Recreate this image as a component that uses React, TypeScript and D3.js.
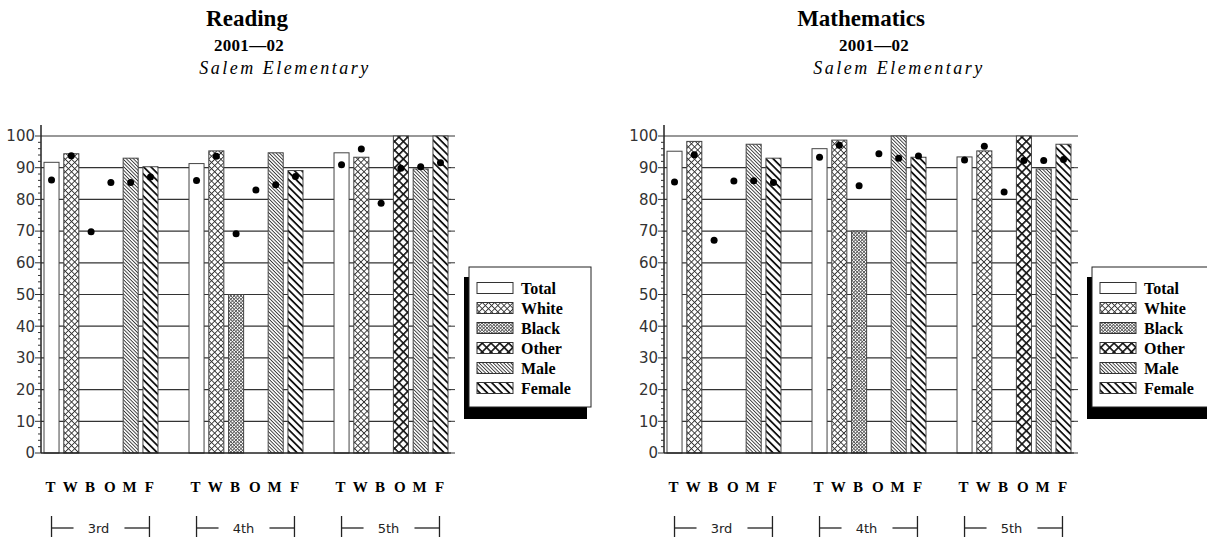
import * as d3 from 'd3';
import { useEffect, useRef } from 'react';

const grades = ['3rd', '4th', '5th'];
const groups = ['Total', 'White', 'Black', 'Other', 'Male', 'Female'];
const groupLetters = ['T', 'W', 'B', 'O', 'M', 'F'];
const yTicks = [0, 10, 20, 30, 40, 50, 60, 70, 80, 90, 100];

// bar heights per grade (null = no bar drawn)
const readingBars = [
  [91.7, 94.4, null, null, 93.0, 90.3],
  [91.3, 95.3, 50, null, 94.7, 89.1],
  [94.7, 93.3, null, 100, 89.6, 100],
];
const readingDots = [
  [86.1, 93.8, 69.8, 85.3, 85.3, 87.1],
  [86.0, 93.6, 69.2, 83.0, 84.6, 87.2],
  [90.9, 95.9, 78.8, 89.8, 90.3, 91.6],
];
const mathBars = [
  [95.2, 98.3, null, null, 97.4, 93.0],
  [96.0, 98.7, 70, null, 100, 93.3],
  [93.4, 95.3, null, 100, 89.6, 97.4],
];
const mathDots = [
  [85.5, 94.1, 67.1, 85.8, 85.9, 85.3],
  [93.3, 97.1, 84.3, 94.4, 93.0, 93.7],
  [92.4, 96.8, 82.3, 92.3, 92.3, 92.6],
];

const panels = [
  { title: 'Reading', year: '2001\u201402', school: 'Salem Elementary', bars: readingBars, dots: readingDots, dx: 0, tx: [247, 249, 285] },
  { title: 'Mathematics', year: '2001\u201402', school: 'Salem Elementary', bars: mathBars, dots: mathDots, dx: 623, tx: [238, 251, 276] },
];

const SERIF = "'Liberation Serif', 'Times New Roman', serif";
const SANS = "'DejaVu Sans', sans-serif";

type Sel = d3.Selection<SVGGElement, unknown, null, undefined>;

function linePattern(
  defs: d3.Selection<SVGDefsElement, unknown, null, undefined>,
  id: string, period: number, w: number, cross: boolean, color: string
) {
  const p = defs.append('pattern')
    .attr('id', id)
    .attr('patternUnits', 'userSpaceOnUse')
    .attr('width', period)
    .attr('height', period)
    .attr('patternTransform', 'rotate(45)');
  p.append('rect').attr('width', period).attr('height', period).attr('fill', '#fff');
  p.append('rect').attr('width', period).attr('height', w).attr('fill', color);
  if (cross) p.append('rect').attr('width', w).attr('height', period).attr('fill', color);
}

function fillFor(key: string) {
  return key === 'Total' ? '#fff' : `url(#pat-${key})`;
}

function drawPanel(root: Sel, panel: typeof panels[number]) {
  const g = root.append('g').attr('transform', `translate(${panel.dx},0)`);

  const left = 41, right = 451;
  const y = d3.scaleLinear().domain([0, 100]).range([453, 136]);
  const x0 = d3.scaleBand().domain(grades).range([44, 448]).paddingInner(0.214);
  const x1 = d3.scaleBand().domain(groups).range([0, x0.bandwidth()]).paddingInner(0.24);
  const bw = x1.bandwidth();

  // titles
  g.append('text').attr('x', panel.tx[0]).attr('y', 26).attr('text-anchor', 'middle')
    .style('font-family', SERIF).style('font-weight', 'bold').style('font-size', '23px')
    .text(panel.title);
  g.append('text').attr('x', panel.tx[1]).attr('y', 51).attr('text-anchor', 'middle')
    .style('font-family', SERIF).style('font-weight', 'bold').style('font-size', '17px')
    .style('letter-spacing', '0.3px')
    .text(panel.year);
  g.append('text').attr('x', panel.tx[2]).attr('y', 74).attr('text-anchor', 'middle')
    .style('font-family', SERIF).style('font-style', 'italic').style('font-size', '18px')
    .style('letter-spacing', '2.5px')
    .text(panel.school);

  // gridlines
  g.selectAll('.grid').data(yTicks.filter(t => t > 0)).join('line')
    .attr('x1', left).attr('x2', right)
    .attr('y1', d => y(d)).attr('y2', d => y(d))
    .attr('stroke', '#333').attr('stroke-width', 1.2);

  // right-side ticks
  g.selectAll('.rtick').data(yTicks).join('line')
    .attr('x1', right).attr('x2', right + 4)
    .attr('y1', d => y(d)).attr('y2', d => y(d))
    .attr('stroke', '#333');

  // bars
  const barData = panel.bars.flatMap((row, gi) =>
    row.map((v, si) => ({ grade: grades[gi], key: groups[si], v }))
  ).filter(d => d.v !== null) as { grade: string; key: string; v: number }[];

  g.selectAll('.bar').data(barData).join('rect')
    .attr('x', d => (x0(d.grade) ?? 0) + (x1(d.key) ?? 0))
    .attr('y', d => y(d.v))
    .attr('width', bw)
    .attr('height', d => y(0) - y(d.v))
    .attr('fill', d => fillFor(d.key))
    .attr('stroke', '#444').attr('stroke-width', 1);

  // baseline + left axis
  g.append('line').attr('x1', left).attr('x2', right).attr('y1', y(0)).attr('y2', y(0))
    .attr('stroke', '#222').attr('stroke-width', 1.5);
  g.append('line').attr('x1', left).attr('x2', left).attr('y1', 125).attr('y2', y(0))
    .attr('stroke', '#222').attr('stroke-width', 1.5);

  const minor = d3.range(0, 101, 2);
  g.selectAll('.minor').data(minor).join('line')
    .attr('x1', d => (d % 10 === 0 ? left - 6 : left - 3)).attr('x2', left)
    .attr('y1', d => y(d)).attr('y2', d => y(d))
    .attr('stroke', '#333');

  g.selectAll('.ylab').data(yTicks).join('text')
    .attr('x', 35).attr('y', d => y(d) + 5.3)
    .attr('text-anchor', 'end')
    .style('font-family', SANS).style('font-size', '15px').style('fill', '#333')
    .text(d => String(d));

  // dots
  const dotData = panel.dots.flatMap((row, gi) =>
    row.map((v, si) => ({ grade: grades[gi], key: groups[si], v }))
  );
  g.selectAll('.dot').data(dotData).join('circle')
    .attr('cx', d => (x0(d.grade) ?? 0) + (x1(d.key) ?? 0) + bw / 2)
    .attr('cy', d => y(d.v))
    .attr('r', 3.5)
    .attr('fill', '#000');

  // category letters
  const letterData = grades.flatMap(gr => groups.map((k, i) => ({ grade: gr, key: k, label: groupLetters[i] })));
  g.selectAll('.letter').data(letterData).join('text')
    .attr('x', d => (x0(d.grade) ?? 0) + (x1(d.key) ?? 0) + bw / 2 - 1)
    .attr('y', 492)
    .attr('text-anchor', 'middle')
    .style('font-family', SERIF).style('font-weight', 'bold').style('font-size', '15px')
    .text(d => d.label);

  // grade brackets
  grades.forEach(gr => {
    const lx = (x0(gr) ?? 0) + (x1('Total') ?? 0) + bw / 2;
    const rx = (x0(gr) ?? 0) + (x1('Female') ?? 0) + bw / 2 - 1;
    const br = g.append('g').attr('stroke', '#222').attr('stroke-width', 1.3);
    br.append('line').attr('x1', lx).attr('x2', lx).attr('y1', 516).attr('y2', 540);
    br.append('line').attr('x1', rx).attr('x2', rx).attr('y1', 516).attr('y2', 540);
    br.append('line').attr('x1', lx).attr('x2', lx + 22).attr('y1', 528).attr('y2', 528);
    br.append('line').attr('x1', rx - 25).attr('x2', rx).attr('y1', 528).attr('y2', 528);
    g.append('text').attr('x', (lx + rx) / 2 - 2).attr('y', 533)
      .attr('text-anchor', 'middle')
      .style('font-family', SANS).style('font-size', '13px').style('fill', '#222')
      .text(gr);
  });

  // legend with drop shadow
  const lg = g.append('g');
  lg.append('rect').attr('x', 464).attr('y', 277).attr('width', 123).attr('height', 142).attr('fill', '#000');
  lg.append('rect').attr('x', 469).attr('y', 267).attr('width', 122).attr('height', 140)
    .attr('fill', '#fff').attr('stroke', '#222').attr('stroke-width', 1);
  const ly = d3.scalePoint().domain(groups).range([288, 388]);
  groups.forEach(k => {
    lg.append('rect').attr('x', 477).attr('y', (ly(k) ?? 0) - 5.5).attr('width', 36).attr('height', 11)
      .attr('fill', fillFor(k)).attr('stroke', '#333').attr('stroke-width', 1);
    lg.append('text').attr('x', 521).attr('y', (ly(k) ?? 0) + 5.5)
      .style('font-family', SERIF).style('font-weight', 'bold').style('font-size', '16px')
      .text(k);
  });
}

export default function App() {
  const svgRef = useRef<SVGSVGElement>(null);

  useEffect(() => {
    if (!svgRef.current) return;
    const svg = d3.select(svgRef.current);
    svg.selectAll('*').remove();

    const defs = svg.append('defs');
    linePattern(defs, 'pat-White', 4.4, 0.9, true, '#333');
    linePattern(defs, 'pat-Black', 2.4, 0.8, true, '#555');
    linePattern(defs, 'pat-Other', 6.2, 1.6, true, '#111');
    linePattern(defs, 'pat-Male', 2.5, 0.9, false, '#333');
    linePattern(defs, 'pat-Female', 5.2, 1.8, false, '#111');

    svg.append('rect').attr('width', 1207).attr('height', 537).attr('fill', '#fff');
    const root = svg.append('g') as unknown as Sel;
    panels.forEach(p => drawPanel(root, p));
  }, []);

  return (
    <div style={{ position: 'absolute', left: 0, top: 0 }}>
      <svg ref={svgRef} width={1207} height={537} style={{ display: 'block' }} />
    </div>
  );
}
